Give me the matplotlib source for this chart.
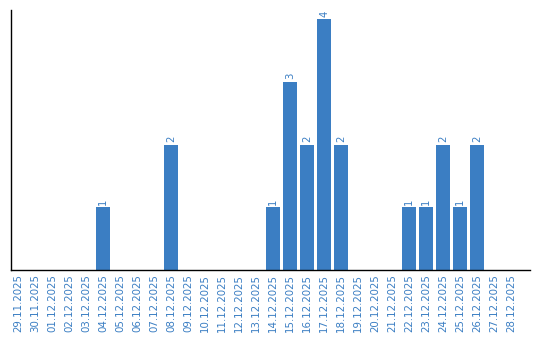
import numpy as np
import matplotlib
matplotlib.use("Agg")
import matplotlib.pyplot as plt

# dates and counts
dates = ["29.11.2025", "30.11.2025", "01.12.2025", "02.12.2025", "03.12.2025",
         "04.12.2025", "05.12.2025", "06.12.2025", "07.12.2025", "08.12.2025",
         "09.12.2025", "10.12.2025", "11.12.2025", "12.12.2025", "13.12.2025",
         "14.12.2025", "15.12.2025", "16.12.2025", "17.12.2025", "18.12.2025",
         "19.12.2025", "20.12.2025", "21.12.2025", "22.12.2025", "23.12.2025",
         "24.12.2025", "25.12.2025", "26.12.2025", "27.12.2025", "28.12.2025"]
counts = [0, 0, 0, 0, 0, 1, 0, 0, 0, 2,
          0, 0, 0, 0, 0, 1, 3, 2, 4, 2,
          0, 0, 0, 1, 1, 2, 1, 2, 0, 0]

blue = "#3b7ec3"

fig = plt.figure(figsize=(5.4, 3.4), dpi=100, facecolor="white")
ax = fig.add_axes([0.0204, 0.206, 0.961, 0.765])

x = np.arange(len(dates))
bars = ax.bar(x, counts, width=0.82, color=blue)

# value labels on top of non-empty bars
for xi, v in zip(x, counts):
    if v > 0:
        ax.text(xi, v + 0.04, str(v), rotation=90, ha="center", va="bottom",
                fontsize=7.3, color=blue)

ax.set_xlim(-0.41, 30.1)
ax.set_ylim(0, 4.15)
ax.set_xticks(x)
ax.set_xticklabels(dates, rotation=90, fontsize=7.4, color=blue)
ax.set_yticks([])
ax.tick_params(axis="x", length=0, pad=3)

ax.spines["top"].set_visible(False)
ax.spines["right"].set_visible(False)
ax.spines["left"].set_linewidth(1.0)
ax.spines["bottom"].set_linewidth(1.0)

plt.savefig("out.png", dpi=100, facecolor="white")
